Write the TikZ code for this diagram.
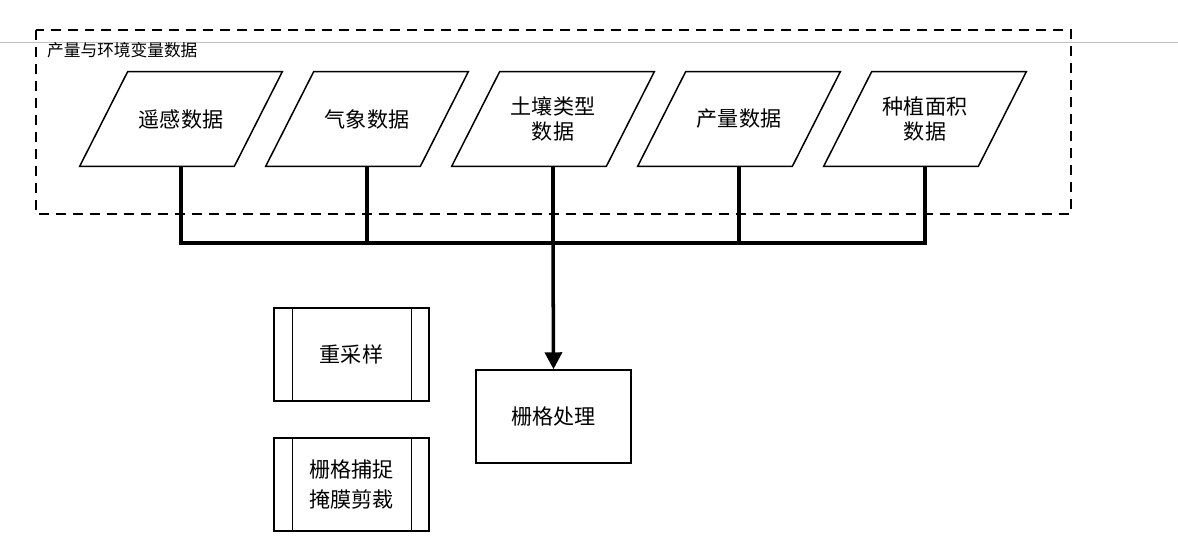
\documentclass[tikz,border=0pt]{standalone}
\usepackage{fontspec}
\newfontfamily\cjk{Noto Sans CJK SC}
\usetikzlibrary{arrows.meta}

\begin{document}
\begin{tikzpicture}[x=0.02cm,y=-0.02cm,
        datain/.style={minimum width=3.08cm,minimum height=1.88cm,inner sep=0pt,
          align=center,font=\cjk\fontsize{12}{14.5}\selectfont},
        procbox/.style={draw,line width=0.85pt,minimum width=3.1cm,minimum height=1.86cm,
          inner sep=0pt,align=center,font=\cjk\fontsize{12}{17}\selectfont},
        bus/.style={line width=2pt}]
        \useasboundingbox (0,0) rectangle (1178,539);
        \draw[black!25,line width=0.5pt] (0,42) -- (1178,42);
        % group frame
        \draw[dash pattern=on 0.2cm off 0.14cm,line width=0.85pt] (36,30) rectangle (1071,214);
        \node[anchor=west,font=\cjk\fontsize{9.5}{11}\selectfont] (grp) at (41,50) {产量与环境变量数据};
        % input data
        \node[datain] (p1) at (181,119) {遥感数据};
        \node[datain] (p2) at (367,119) {气象数据};
        \node[datain] (p3) at (553,119) {土壤类型\\数据};
        \node[datain] (p4) at (739,119) {产量数据};
        \node[datain] (p5) at (925,119) {种植面积\\数据};
          \foreach \n in {1,...,5}
            \draw[line width=0.85pt] ([xshift=0.48cm]p\n.north west) -- ([xshift=0.48cm]p\n.north east)
              -- ([xshift=-0.48cm]p\n.south east) -- ([xshift=-0.48cm]p\n.south west) -- cycle;
        \coordinate (bus) at (553,243);
          \draw[bus] (p1.south) -- (p1 |- bus) -- (p5 |- bus) -- (p5.south);
          \foreach \n in {2,3,4}
            \draw[bus] (p\n.south) -- (p\n |- bus);
        % processing
        \node[procbox] (grid) at (553.5,416.5) {栅格处理};
        \node[procbox] (rs) at (351.5,354.5) {重采样};
        \node[procbox] (snap) at (351.5,484.5) {栅格捕捉\\掩膜剪裁};
          \foreach \b in {rs,snap} {
            \draw[line width=0.85pt] ([xshift=0.38cm]\b.north west) -- ([xshift=0.38cm]\b.south west);
            \draw[line width=0.85pt] ([xshift=-0.36cm]\b.north east) -- ([xshift=-0.36cm]\b.south east);
          }
        \draw[bus,-{Triangle[length=0.34cm,width=0.34cm]}] (bus) -- (grid.north);
\end{tikzpicture}
\end{document}
